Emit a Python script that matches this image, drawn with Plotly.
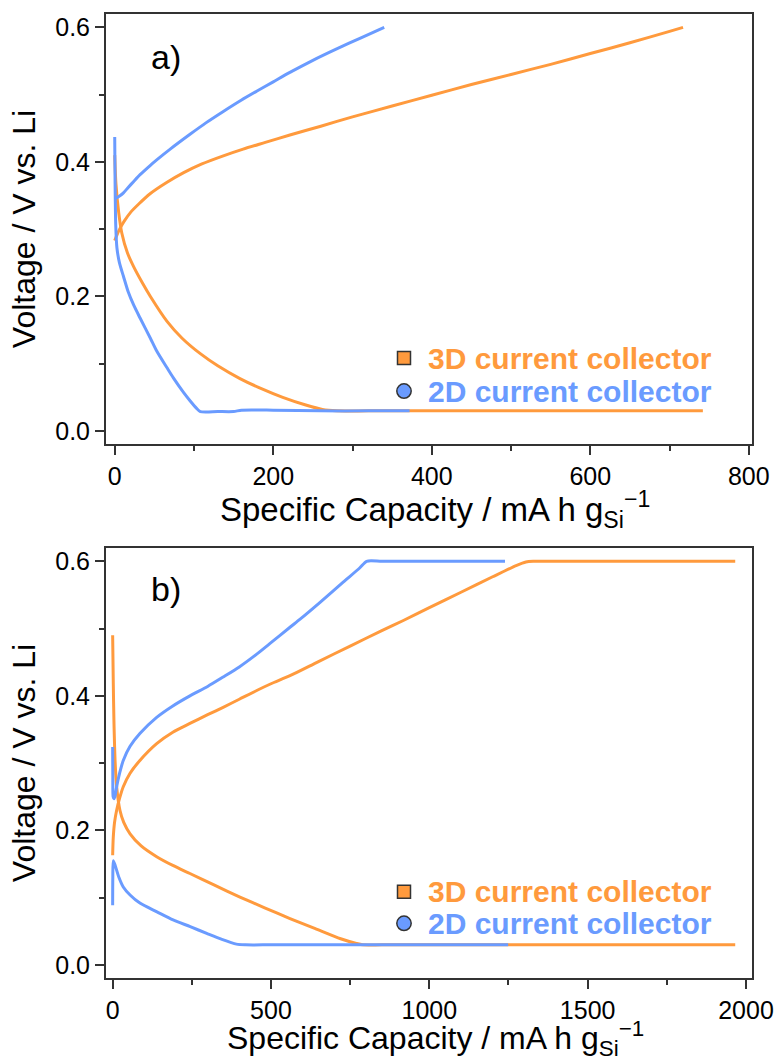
import plotly.graph_objects as go

# ---------------- data ----------------
# Panel a)
a_3d_dis_x = [0, 1.5, 5, 9, 16, 24, 35, 45, 66, 85, 108, 130, 158, 185, 212, 240, 262, 280, 320, 400, 500, 600, 700, 742]
a_3d_dis_y = [0.41, 0.368, 0.325, 0.294, 0.265, 0.244, 0.22, 0.2, 0.163, 0.138, 0.115, 0.097, 0.078, 0.063, 0.050, 0.039, 0.032, 0.030, 0.030, 0.030, 0.030, 0.030, 0.030, 0.030]

a_3d_ch_x = [0, 3, 7, 12, 20, 30, 45, 65, 87, 110, 137, 162, 190, 221, 260, 300, 350, 400, 450, 500, 550, 600, 650, 700, 717]
a_3d_ch_y = [0.283, 0.292, 0.302, 0.312, 0.325, 0.337, 0.353, 0.369, 0.384, 0.397, 0.409, 0.419, 0.429, 0.440, 0.453, 0.467, 0.483, 0.499, 0.515, 0.53, 0.545, 0.561, 0.577, 0.594, 0.6]

a_2d_dis_x = [0, 0.3, 0.7, 1.3, 2.8, 6, 11, 17, 24, 32, 45, 53, 66, 74, 87, 95, 103, 108, 130, 150, 160, 200, 260, 320, 372]
a_2d_dis_y = [0.437, 0.39, 0.345, 0.305, 0.272, 0.25, 0.23, 0.207, 0.187, 0.168, 0.138, 0.119, 0.094, 0.079, 0.057, 0.045, 0.034, 0.029, 0.029, 0.029, 0.031, 0.031, 0.030, 0.030, 0.030]

a_2d_ch_x = [0, 3, 7, 11, 17, 24, 32, 45, 53, 70, 95, 115, 137, 160, 179, 200, 221, 250, 280, 310, 340]
a_2d_ch_y = [0.346, 0.347, 0.35, 0.354, 0.362, 0.371, 0.381, 0.395, 0.403, 0.419, 0.441, 0.458, 0.475, 0.492, 0.505, 0.519, 0.533, 0.551, 0.568, 0.584, 0.600]

# Panel b)
b_3d_dis_x = [0, 2, 4, 8, 12.6, 23, 35, 55, 90, 139, 190, 244, 320, 402, 480, 560, 640, 720, 770, 790, 850, 1000, 1200, 1400, 1600, 1800, 1966]
b_3d_dis_y = [0.49, 0.42, 0.364, 0.30, 0.265, 0.23, 0.212, 0.195, 0.177, 0.161, 0.148, 0.136, 0.119, 0.101, 0.085, 0.069, 0.054, 0.039, 0.032, 0.030, 0.030, 0.030, 0.030, 0.030, 0.030, 0.030, 0.030]

b_3d_ch_x = [0, 2, 6, 12.6, 22, 33.5, 55, 86, 139, 190, 244, 300, 349, 400, 455, 500, 560, 650, 750, 850, 918, 1000, 1100, 1200, 1276, 1305, 1328, 1400, 1600, 1800, 1966]
b_3d_ch_y = [0.163, 0.19, 0.212, 0.23, 0.248, 0.265, 0.285, 0.304, 0.329, 0.346, 0.359, 0.372, 0.383, 0.395, 0.408, 0.418, 0.43, 0.451, 0.474, 0.497, 0.512, 0.531, 0.554, 0.577, 0.594, 0.599, 0.600, 0.600, 0.600, 0.600, 0.600]

b_2d_dis_x = [0, 0.5, 2, 8, 20, 33.5, 55, 86, 140, 191, 245, 297, 345, 391, 420, 500, 700, 900, 1100, 1249]
b_2d_dis_y = [0.089, 0.13, 0.155, 0.148, 0.13, 0.116, 0.104, 0.092, 0.079, 0.067, 0.057, 0.047, 0.038, 0.031, 0.030, 0.030, 0.030, 0.030, 0.030, 0.030]

b_2d_ch_x = [0, 0.5, 1.5, 4, 7, 12.6, 22, 33.5, 55, 86, 139, 190, 244, 300, 349, 400, 455, 500, 560, 592, 655, 728, 780, 802, 850, 950, 1050, 1150, 1239]
b_2d_ch_y = [0.324, 0.28, 0.25, 0.247, 0.25, 0.265, 0.285, 0.304, 0.325, 0.344, 0.368, 0.385, 0.40, 0.414, 0.428, 0.443, 0.462, 0.479, 0.502, 0.514, 0.539, 0.569, 0.59, 0.6, 0.6, 0.6, 0.6, 0.6, 0.6]

series_names = ["3D current collector", "2D current collector"]

# ---------------- styling ----------------
ORANGE = "#FF9A3D"
BLUE = "#6A9BFF"
AX = "#333333"
FONT = "Liberation Sans, Arial, sans-serif"

fig = go.Figure()

def add_line(x, y, color, xa, ya):
    fig.add_trace(go.Scatter(x=x, y=y, mode="lines",
                             line=dict(color=color, width=3, shape="spline", smoothing=0.7),
                             xaxis=xa, yaxis=ya, showlegend=False, hoverinfo="skip"))

# panel a
add_line(a_3d_dis_x, a_3d_dis_y, ORANGE, "x", "y")
add_line(a_3d_ch_x, a_3d_ch_y, ORANGE, "x", "y")
add_line(a_2d_dis_x, a_2d_dis_y, BLUE, "x", "y")
add_line(a_2d_ch_x, a_2d_ch_y, BLUE, "x", "y")
# panel b
add_line(b_3d_dis_x, b_3d_dis_y, ORANGE, "x2", "y2")
add_line(b_3d_ch_x, b_3d_ch_y, ORANGE, "x2", "y2")
add_line(b_2d_dis_x, b_2d_dis_y, BLUE, "x2", "y2")
add_line(b_2d_ch_x, b_2d_ch_y, BLUE, "x2", "y2")

xtitle = "Specific Capacity / mA h g<sub>Si</sub><sup>\u22121</sup>"
ytitle = "Voltage / V vs. Li"

common = dict(showline=True, mirror=True, linecolor=AX, linewidth=2, showgrid=False, zeroline=False,
              ticks="outside", ticklen=9, tickwidth=1.5, tickcolor=AX, automargin=False,
              tickfont=dict(size=25, family=FONT, color="black"))

def xax(rng, dt, mdt, anchor):
    return dict(common, range=rng, tick0=0, dtick=dt, anchor=anchor,
                minor=dict(dtick=mdt, tick0=0, ticks="outside", ticklen=5, tickwidth=1.5, tickcolor=AX, showgrid=False))

def yax(dom, anchor):
    return dict(common, range=[-0.0193, 0.6198], tick0=0, dtick=0.2, tickformat=".1f", domain=dom, anchor=anchor,
                minor=dict(dtick=0.1, tick0=0, ticks="outside", ticklen=5, tickwidth=1.5, tickcolor=AX, showgrid=False),
                title=dict(text=ytitle, font=dict(size=32, family=FONT, color="black"), standoff=10))

annotations = [
    # panel letters
    dict(text="a)", xref="x domain", yref="y domain", x=0.066, y=0.9, xanchor="left", yanchor="middle",
         showarrow=False, font=dict(size=34, family=FONT, color="black")),
    dict(text="b)", xref="x2 domain", yref="y2 domain", x=0.066, y=0.905, xanchor="left", yanchor="middle",
         showarrow=False, font=dict(size=34, family=FONT, color="black")),
    # x-axis titles
    dict(text=xtitle, xref="x domain", yref="paper", x=0.51, y=0.4855, xanchor="center", yanchor="middle",
         showarrow=False, font=dict(size=33, family=FONT, color="black")),
    dict(text=xtitle, xref="x2 domain", yref="paper", x=0.51, y=-0.063, xanchor="center", yanchor="middle",
         showarrow=False, font=dict(size=32, family=FONT, color="black")),
]

# legend drawn as shapes + annotations (per panel)
shapes = []
for xr, yr, rows in [("x domain", "y domain", (0.200, 0.1233)), ("x2 domain", "y2 domain", (0.2007, 0.1272))]:
    for i, (name, col, sym) in enumerate([(series_names[0], ORANGE, "rect"), (series_names[1], BLUE, "circle")]):
        yc = rows[i]
        annotations.append(dict(text=f"<b>{name}</b>", xref=xr, yref=yr, x=0.4955, y=yc,
                                xanchor="left", yanchor="middle", showarrow=False,
                                font=dict(size=30, family=FONT, color=col)))
        half_x = 6.5 / 646
        half_y = 6.5 / 430
        if sym == "circle":
            half_x = 7.2 / 646
            half_y = 7.2 / 430
        shapes.append(dict(type=sym, xref=xr, yref=yr, x0=0.4613 - half_x, x1=0.4613 + half_x,
                           y0=yc - half_y, y1=yc + half_y, fillcolor=col, line=dict(color=AX, width=1.5)))

fig.update_layout(
    width=778, height=1061,
    margin=dict(l=106, r=26, t=14, b=83, autoexpand=False),
    plot_bgcolor="white", paper_bgcolor="white",
    font=dict(family=FONT, color="black"),
    showlegend=False,
    xaxis=xax([-11, 804], 200, 100, "y"),
    yaxis=yax([0.5539, 1.0], "x"),
    xaxis2=xax([-21, 2019], 500, 250, "y2"),
    yaxis2=yax([0.0, 0.4461], "x2"),
    annotations=annotations,
    shapes=shapes,
)

fig.write_html("out.html", config={"displayModeBar": False},
               post_script="document.body.style.margin='0';document.body.style.padding='0';"
                           "document.documentElement.style.overflow='hidden';")
